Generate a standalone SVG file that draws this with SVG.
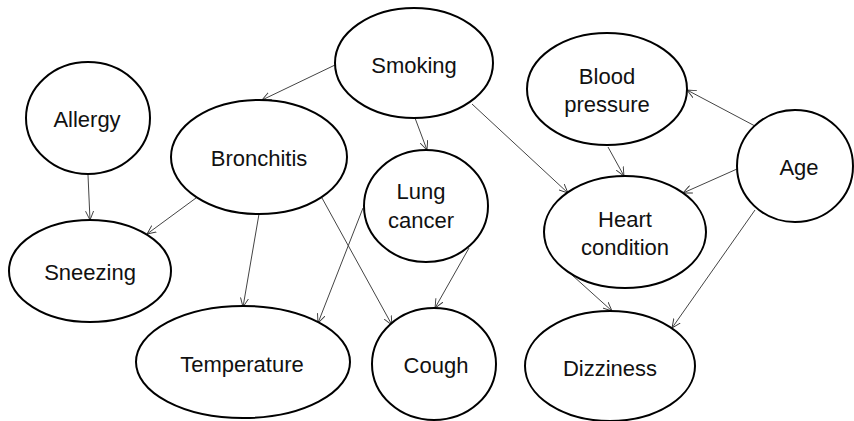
<svg xmlns="http://www.w3.org/2000/svg" width="854" height="421" viewBox="0 0 854 421">
<defs>
<marker id="arr" viewBox="0 0 10 10" refX="10" refY="5" markerWidth="9" markerHeight="9" markerUnits="userSpaceOnUse" orient="auto">
<path d="M0,0.5 L10,5 L0,9.5" fill="none" stroke="#333" stroke-width="1"/>
</marker>
<style>
.n ellipse{fill:#fff;stroke:#000;stroke-width:2}
.n text{font-family:"Liberation Sans",Arial,sans-serif;font-size:22px;fill:#111;text-anchor:middle}
#edges line{stroke:#444;stroke-width:1;marker-end:url(#arr)}
</style>
</defs>
<rect width="854" height="421" fill="#fff"/>
<g id="edges">
<line x1="335" y1="65" x2="262" y2="100"/>
<line x1="415" y1="118" x2="427" y2="150"/>
<line x1="472" y1="104" x2="568" y2="193"/>
<line x1="88" y1="175" x2="90" y2="220"/>
<line x1="196" y1="198" x2="147" y2="234"/>
<line x1="259" y1="214" x2="243" y2="307"/>
<line x1="322" y1="198" x2="392" y2="325"/>
<line x1="363" y1="208" x2="318" y2="323"/>
<line x1="469" y1="248" x2="435" y2="308"/>
<line x1="608" y1="147" x2="624" y2="176"/>
<line x1="755" y1="126" x2="687" y2="90"/>
<line x1="737" y1="169" x2="683" y2="193"/>
<line x1="572" y1="275" x2="612" y2="311"/>
<line x1="755" y1="210" x2="672" y2="328"/>
</g>
<g id="smoking" class="n"><ellipse cx="414" cy="63" rx="79" ry="55"/><text x="414" y="73">Smoking</text></g>
<g id="allergy" class="n"><ellipse cx="88" cy="118" rx="62" ry="56"/><text x="87" y="127">Allergy</text></g>
<g id="bronchitis" class="n"><ellipse cx="259" cy="157" rx="88" ry="57"/><text x="259" y="166">Bronchitis</text></g>
<g id="lungcancer" class="n"><ellipse cx="426" cy="206" rx="62" ry="56"/><text x="421" y="199">Lung</text><text x="421" y="228">cancer</text></g>
<g id="bloodpressure" class="n"><ellipse cx="607" cy="89" rx="80" ry="56"/><text x="607" y="84">Blood</text><text x="607" y="112">pressure</text></g>
<g id="age" class="n"><ellipse cx="795" cy="166" rx="58" ry="56"/><text x="799" y="175">Age</text></g>
<g id="heartcondition" class="n"><ellipse cx="625" cy="232" rx="81" ry="56"/><text x="625" y="227">Heart</text><text x="625" y="255">condition</text></g>
<g id="sneezing" class="n"><ellipse cx="90" cy="271" rx="81" ry="51"/><text x="90" y="280">Sneezing</text></g>
<g id="temperature" class="n"><ellipse cx="243" cy="362" rx="107" ry="56"/><text x="242" y="372">Temperature</text></g>
<g id="cough" class="n"><ellipse cx="434" cy="364" rx="62" ry="56"/><text x="436" y="373">Cough</text></g>
<g id="dizziness" class="n"><ellipse cx="610" cy="366" rx="85" ry="55"/><text x="610" y="376">Dizziness</text></g>
</svg>
